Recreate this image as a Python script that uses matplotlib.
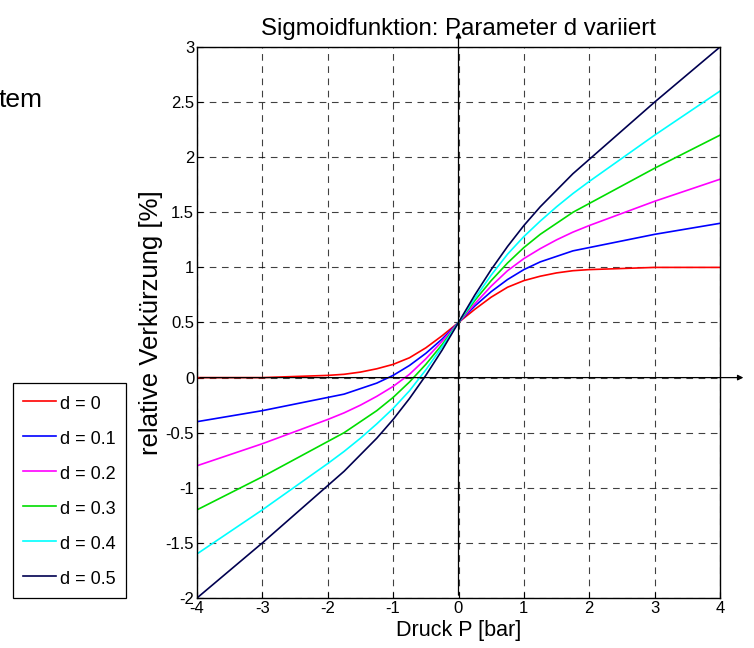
import numpy as np
import matplotlib
matplotlib.use("Agg")
import matplotlib.pyplot as plt

plt.rcParams['font.family'] = ['Liberation Sans', 'DejaVu Sans']
plt.rcParams['axes.unicode_minus'] = False

# Druck P [bar]
x = [-4, -3.5, -3, -2.5, -2, -1.75, -1.5, -1.25, -1, -0.75, -0.5, -0.25, 0,
     0.25, 0.5, 0.75, 1, 1.25, 1.5, 1.75, 2, 2.5, 3, 3.5, 4]

# relative Verkuerzung, one list per d value
y_d00 = [0.00, 0.00, 0.00, 0.01, 0.02, 0.03, 0.05, 0.08, 0.12, 0.18, 0.27, 0.38, 0.50,
         0.62, 0.73, 0.82, 0.88, 0.92, 0.95, 0.97, 0.98, 0.99, 1.00, 1.00, 1.00]
y_d01 = [-0.40, -0.35, -0.30, -0.24, -0.18, -0.15, -0.10, -0.05, 0.02, 0.11, 0.22, 0.35, 0.50,
         0.65, 0.78, 0.89, 0.98, 1.05, 1.10, 1.15, 1.18, 1.24, 1.30, 1.35, 1.40]
y_d02 = [-0.80, -0.70, -0.60, -0.49, -0.38, -0.32, -0.25, -0.17, -0.08, 0.03, 0.17, 0.33, 0.50,
         0.67, 0.83, 0.97, 1.08, 1.17, 1.25, 1.32, 1.38, 1.49, 1.60, 1.70, 1.80]
y_d03 = [-1.20, -1.05, -0.90, -0.74, -0.58, -0.50, -0.40, -0.30, -0.18, -0.04, 0.12, 0.30, 0.50,
         0.70, 0.88, 1.04, 1.18, 1.30, 1.40, 1.50, 1.58, 1.74, 1.90, 2.05, 2.20]
y_d04 = [-1.60, -1.40, -1.20, -0.99, -0.78, -0.67, -0.55, -0.42, -0.28, -0.12, 0.07, 0.28, 0.50,
         0.72, 0.93, 1.12, 1.28, 1.42, 1.55, 1.67, 1.78, 1.99, 2.20, 2.40, 2.60]
y_d05 = [-2.00, -1.75, -1.50, -1.24, -0.98, -0.85, -0.70, -0.55, -0.38, -0.19, 0.02, 0.25, 0.50,
         0.75, 0.98, 1.19, 1.38, 1.55, 1.70, 1.85, 1.98, 2.24, 2.50, 2.75, 3.00]

labels = ['d = 0', 'd = 0.1', 'd = 0.2', 'd = 0.3', 'd = 0.4', 'd = 0.5']
colors = ['#ff0000', '#0000ff', '#ff00ff', '#00dd00', '#00ffff', '#000050']
series = [y_d00, y_d01, y_d02, y_d03, y_d04, y_d05]

xticks = [-4, -3, -2, -1, 0, 1, 2, 3, 4]
yticks = [-2, -1.5, -1, -0.5, 0, 0.5, 1, 1.5, 2, 2.5, 3]
yticklabels = ['-2', '-1.5', '-1', '-0.5', '0', '0.5', '1', '1.5', '2', '2.5', '3']

fig = plt.figure(figsize=(7.54, 6.48), dpi=100)
ax = fig.add_axes([197/754, 1-598/648, (720-197)/754, (598-47)/648])

for ys, c, lab in zip(series, colors, labels):
    ax.plot(x, ys, color=c, lw=1.2, label=lab)

ax.set_xlim(-4, 4)
ax.set_ylim(-2, 3)
ax.set_xticks(xticks)
ax.set_yticks(yticks)
ax.set_yticklabels(yticklabels)
ax.tick_params(direction='in', length=4, labelsize=12, pad=2)
ax.grid(True, color='black', linestyle=(0, (6, 5)), lw=0.8, alpha=0.75)
for s in ax.spines.values():
    s.set_linewidth(1.0)

# coordinate axes with arrows
ax.annotate('', xy=(4.4, 0), xytext=(-4, 0), annotation_clip=False,
            arrowprops=dict(arrowstyle='-|>', color='black', lw=0.9, mutation_scale=8))
ax.annotate('', xy=(0, 3.16), xytext=(0, -2), annotation_clip=False,
            arrowprops=dict(arrowstyle='-|>', color='black', lw=0.9, mutation_scale=8))

ax.set_title('Sigmoidfunktion: Parameter d variiert', fontsize=17.3, pad=9)
ax.set_xlabel('Druck P [bar]', fontsize=15.5, labelpad=3)
ax.set_ylabel('relative Verkürzung [%]', fontsize=18.5, labelpad=2)

leg = fig.legend(loc='upper left', bbox_to_anchor=(13/754, 1-383/648), fontsize=13,
                 handlelength=1.85, handleheight=1.3, handletextpad=0.2,
                 labelspacing=0.84, borderpad=0.55, borderaxespad=0,
                 fancybox=False, edgecolor='black', framealpha=1)
leg.get_frame().set_linewidth(0.9)

fig.text(43/754, 1-107/648, 'tem', fontsize=19, ha='right', va='baseline')

fig.savefig('out.png', dpi=100)
